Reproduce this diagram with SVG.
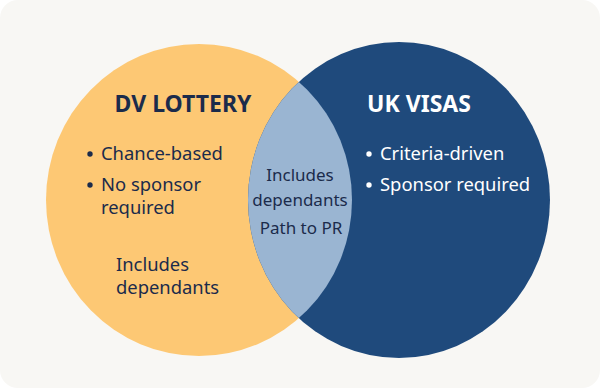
<svg xmlns="http://www.w3.org/2000/svg" width="600" height="388" viewBox="0 0 600 388">
  <style>
    text { font-family: "Noto Sans", "DejaVu Sans", sans-serif; }
    .title { font-size: 23px; font-weight: 700; }
    .body { font-size: 18.4px; }
    .mid { font-size: 17px; }
    .dark { fill: #1b2b4b; }
    .light { fill: #ffffff; }
  </style>
  <defs>
    <clipPath id="leftClip">
      <ellipse cx="199" cy="200" rx="153" ry="156"/>
    </clipPath>
  </defs>
  <rect x="0" y="0" width="600" height="388" fill="#ffffff"/>
  <rect x="0" y="0" width="600" height="388" rx="18" fill="#f8f7f4"/>

  <g id="dv-lottery">
    <ellipse cx="199" cy="200" rx="153" ry="156" fill="#fdc874"/>
  </g>
  <g id="uk-visas">
    <ellipse cx="399" cy="200" rx="151" ry="158" fill="#1f4a7c"/>
  </g>
  <g id="overlap">
    <ellipse cx="399" cy="200" rx="151" ry="158" fill="#9ab5d2" clip-path="url(#leftClip)"/>
  </g>
  <g id="connectors"></g>

  <g id="dv-lottery-text" class="dark">
    <text class="title" x="183" y="112" text-anchor="middle">DV LOTTERY</text>
    <circle cx="90" cy="154" r="2.7"/>
    <text class="body" x="101" y="160">Chance-based</text>
    <circle cx="90" cy="185" r="2.7"/>
    <text class="body" x="101" y="191">No sponsor</text>
    <text class="body" x="101" y="214">required</text>
    <text class="body" x="116" y="271">Includes</text>
    <text class="body" x="116" y="294">dependants</text>
  </g>

  <g id="overlap-text" class="dark">
    <text class="mid" x="300" y="181" text-anchor="middle">Includes</text>
    <text class="mid" x="300" y="206" text-anchor="middle">dependants</text>
    <text class="mid" x="301" y="234" text-anchor="middle">Path to PR</text>
  </g>

  <g id="uk-visas-text" class="light">
    <text class="title" x="419" y="112" text-anchor="middle">UK VISAS</text>
    <circle cx="369" cy="154" r="2.7"/>
    <text class="body" x="380" y="160">Criteria-driven</text>
    <circle cx="369" cy="185" r="2.7"/>
    <text class="body" x="380" y="191">Sponsor required</text>
  </g>
</svg>
